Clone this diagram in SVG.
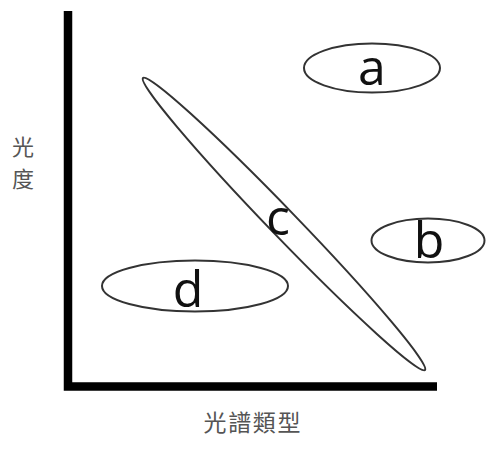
<svg xmlns="http://www.w3.org/2000/svg" width="500" height="450" viewBox="0 0 500 450">
<style>
.ell{fill:none;stroke:#333;stroke-width:2}
.lbl{font-family:"Open Sans","Noto Sans",sans-serif;font-size:50px;fill:#111;text-anchor:middle}
.ax{font-family:"Noto Sans CJK TC","Noto Sans CJK SC",sans-serif;fill:#555;text-anchor:middle}
</style>
<rect width="500" height="450" fill="#fff"/>
<g id="axes">
<path d="M68,11 V386.5 H437" fill="none" stroke="#000" stroke-width="8.5"/>
</g>
<g id="ylabel">
<text class="ax" x="23" y="155" font-size="22">光</text>
<text class="ax" x="23" y="187" font-size="22">度</text>
</g>
<g id="xlabel">
<text class="ax" x="252" y="431" font-size="23" textLength="97" lengthAdjust="spacing">光譜類型</text>
</g>
<g id="node-a">
<ellipse class="ell" cx="372" cy="68" rx="68" ry="24.5"/>
<text class="lbl" x="372" y="85">a</text>
</g>
<g id="node-b">
<ellipse class="ell" cx="428" cy="240.5" rx="56.5" ry="22"/>
<text class="lbl" x="429" y="258">b</text>
</g>
<g id="node-c">
<ellipse class="ell" cx="284" cy="224" rx="203" ry="13.5" transform="rotate(46 284 224)"/>
<text class="lbl" x="278" y="235">c</text>
</g>
<g id="node-d">
<ellipse class="ell" cx="195" cy="286" rx="93" ry="25.5"/>
<text class="lbl" x="188" y="306.5">d</text>
</g>
<g id="connectors"/>
</svg>
